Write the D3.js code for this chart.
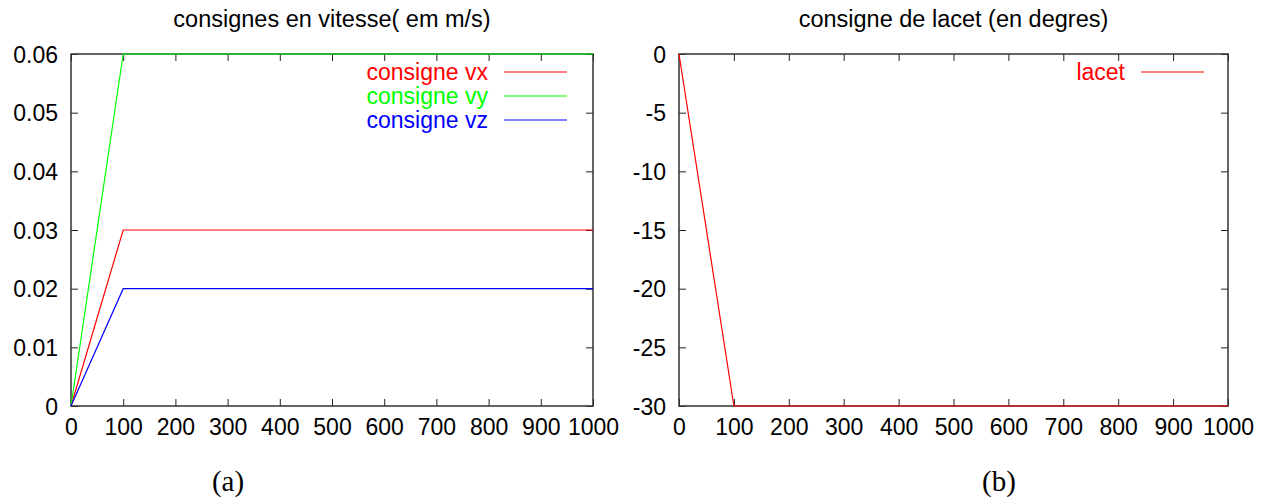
<!DOCTYPE html>
<html><head><meta charset="utf-8">
<script src="https://cdn.jsdelivr.net/npm/d3@7"></script>
<style>body{margin:0;background:#fff}svg{display:block}</style>
</head><body><svg id="c" width="1275" height="501" font-family="Liberation Sans, Arial, sans-serif"></svg>
<script>
const timeX = [0, 100, 1000];
const vx = [0, 0.03, 0.03];
const vy = [0, 0.06, 0.06];
const vz = [0, 0.02, 0.02];
const lacet = [0, -30, -30];
const xTicks = [0,100,200,300,400,500,600,700,800,900,1000];
const yTicksA = [0,0.01,0.02,0.03,0.04,0.05,0.06];
const yTicksB = [0,-5,-10,-15,-20,-25,-30];
const seriesA = [
  {name:"consigne vx", values: vx, color:"#ff0000"},
  {name:"consigne vy", values: vy, color:"#00ff00"},
  {name:"consigne vz", values: vz, color:"#0000ff"}
];
const seriesB = [{name:"lacet", values: lacet, color:"#ff0000"}];

const svg = d3.select("#c");

function panel(opt){
  const g = svg.append("g");
  const x = d3.scaleLinear().domain([0,1000]).range([opt.x0, opt.x1]);
  const y = d3.scaleLinear().domain(opt.ydom).range([opt.yb, opt.yt]);
  const tl = 7;
  g.append("text").attr("x", (opt.x0+opt.x1)/2).attr("y", 27).attr("text-anchor","middle")
    .attr("font-size", 23.5).attr("fill","#000").text(opt.title);
  const axB = d3.axisBottom(x).tickValues(xTicks).tickSize(-tl).tickPadding(13).tickFormat(d=>String(d));
  const axT = d3.axisTop(x).tickValues(xTicks).tickSize(-tl).tickFormat("");
  const axL = d3.axisLeft(y).tickValues(opt.yticks).tickSize(-tl).tickPadding(13).tickFormat(opt.fmt);
  const axR = d3.axisRight(y).tickValues(opt.yticks).tickSize(-tl).tickFormat("");
  const styleAx = (sel)=>{
    sel.attr("font-family",null);
    sel.select(".domain").remove();
    sel.selectAll(".tick line").attr("stroke","#222");
    sel.selectAll("text").attr("font-size",23).attr("fill","#000");
  };
  g.append("g").attr("transform",`translate(0,${opt.yb})`).call(axB).call(styleAx)
    .selectAll("text").attr("dy","0.71em");
  g.append("g").attr("transform",`translate(0,${opt.yt})`).call(axT).call(styleAx);
  g.append("g").attr("transform",`translate(${opt.x0},0)`).call(axL).call(styleAx)
    .selectAll("text").attr("dy","0.36em");
  g.append("g").attr("transform",`translate(${opt.x1},0)`).call(axR).call(styleAx);
  g.append("rect").attr("x",opt.x0).attr("y",opt.yt).attr("width",opt.x1-opt.x0).attr("height",opt.yb-opt.yt)
    .attr("fill","none").attr("stroke","#333").attr("stroke-width",1.5);
  const line = d3.line().x((d,i)=>x(timeX[i])).y(d=>y(d));
  opt.series.forEach((s,i)=>{
    g.append("path").datum(s.values).attr("d",line).attr("fill","none").attr("stroke",s.color).attr("stroke-width",1.2);
    const ly = 72 + i*24;
    g.append("text").attr("x",opt.legX).attr("y",ly).attr("dy","0.36em").attr("text-anchor","end")
      .attr("font-size",23).attr("fill",s.color).text(s.name);
    g.append("line").attr("x1",opt.legX+16).attr("x2",opt.legX+79).attr("y1",ly).attr("y2",ly)
      .attr("stroke",s.color).attr("stroke-width",1.2);
  });
  svg.append("text").attr("x",opt.capX).attr("y",491).attr("text-anchor","middle")
    .attr("font-family","Liberation Serif, Times New Roman, serif").attr("font-size",29).attr("fill","#000").text(opt.cap);
}

panel({x0:71, x1:593, yt:54, yb:406, ydom:[0,0.06], yticks:yTicksA, fmt:d=>d===0?"0":d.toFixed(2),
  title:"consignes en vitesse( em m/s)", series:seriesA, legX:488, cap:"(a)", capX:228});
panel({x0:679, x1:1228, yt:54, yb:406, ydom:[-30,0], yticks:yTicksB, fmt:d=>String(d),
  title:"consigne de lacet (en degres)", series:seriesB, legX:1125, cap:"(b)", capX:999});
</script></body></html>
